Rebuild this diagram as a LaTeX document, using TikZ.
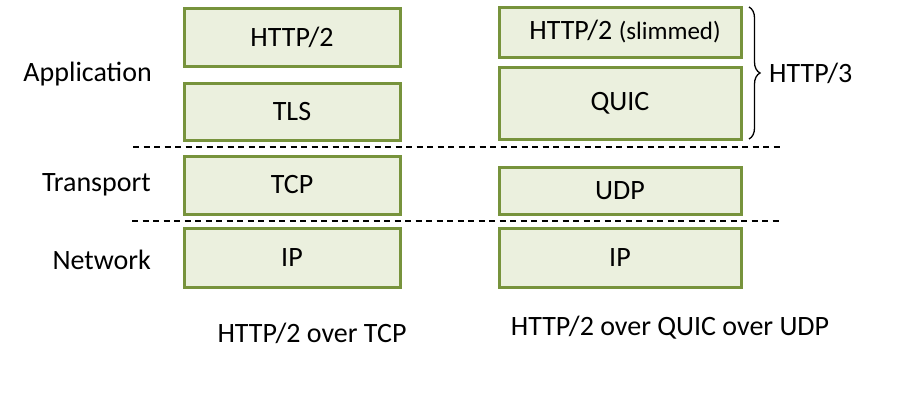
\documentclass[tikz,border=0pt]{standalone}
\usepackage{fontspec}
\setmainfont{Carlito}
\usetikzlibrary{decorations.pathreplacing}
\definecolor{layerfill}{HTML}{EBF0DE}
\definecolor{layerline}{HTML}{77933C}
\begin{document}
\begin{tikzpicture}[x=1pt,y=-1pt,
  every node/.style={font=\fontsize{28}{32}\selectfont, inner sep=0pt},
  layer/.style={draw=layerline, fill=layerfill, line width=3pt, rectangle},
  leftcol/.style={layer, minimum width=216pt},
  rightcol/.style={layer, minimum width=242pt},
  divider/.style={dashed, line width=1.8pt, dash pattern=on 6pt off 4.5pt},
  layername/.style={anchor=east}]
\useasboundingbox (0,0) rectangle (924,416);

% layer names
\node[layername] (app) at (152,74) {Application};
\node[layername] (tra) at (151,185) {Transport};
\node[layername] (net) at (151,260) {Network};

% HTTP/2 over TCP stack
\node[leftcol, minimum height=58pt] (h2) at (292,37) {HTTP/2};
\node[leftcol, minimum height=57pt] (tls) at (292,111.5) {TLS};
\node[leftcol, minimum height=58pt] (tcp) at (292,185) {TCP};
\node[leftcol, minimum height=59pt] (ipl) at (292,257.5) {IP};

% HTTP/2 over QUIC over UDP stack
\node[rightcol, minimum height=50pt] (h2s) at (620,32) {};
\node (h2stext) at (625,32) {HTTP/2 {\fontsize{25}{29}\selectfont (slimmed)}};
\node[rightcol, minimum height=72pt] (quic) at (620,103) {QUIC};
\node[rightcol, minimum height=47pt] (udp) at (620,190.5) {UDP};
\node[rightcol, minimum height=59pt] (ipr) at (620,257.5) {IP};

% layer boundaries
\coordinate (d1a) at (133,147);
\coordinate (d1b) at (782,147);
\coordinate (d2a) at (132,221);
\coordinate (d2b) at (780,221);
\draw[divider] (d1a) -- (d1b);
\draw[divider] (d2a) -- (d2b);

% HTTP/3 brace
\coordinate (bt) at (749,7);
\coordinate (bb) at (749,139);
\draw[line width=1.3pt, decorate, decoration={brace, amplitude=11pt}] (bt) -- (bb);
\node[anchor=west] (h3) at (769,73) {HTTP/3};

% captions
\node (capl) at (312,333) {HTTP/2 over TCP};
\node (capr) at (670,328) {HTTP/2 over QUIC over UDP};
\end{tikzpicture}
\end{document}
